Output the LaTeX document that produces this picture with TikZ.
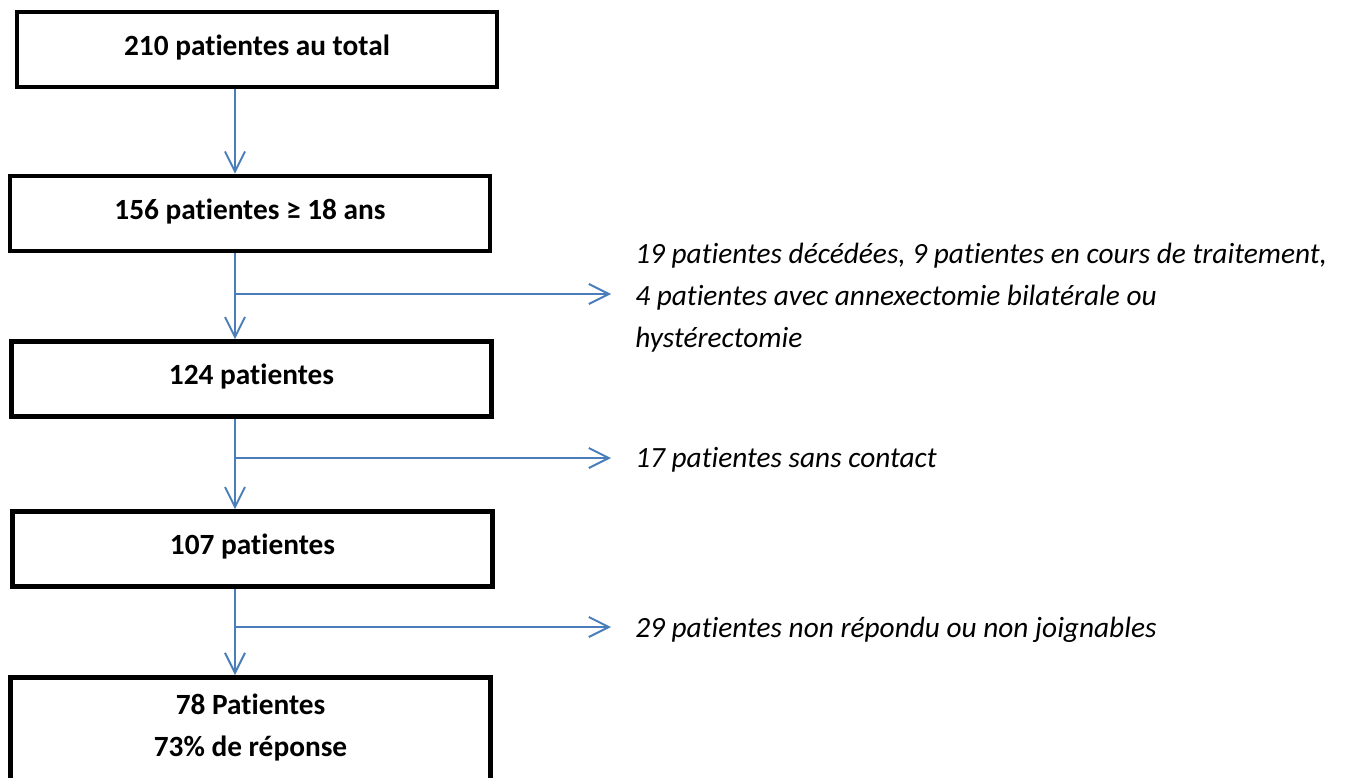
\documentclass[tikz,border=0pt]{standalone}
\usepackage{fontspec}
\setmainfont{Carlito}[Ligatures=NoCommon]
\usetikzlibrary{arrows.meta}
\definecolor{bleu}{HTML}{4A7EBB}
\begin{document}
\begin{tikzpicture}[>={Straight Barb[length=15pt,width=15pt]},x=0.75pt,y=-0.75pt,
	boite/.style={draw,line width=3.4pt,minimum width=360pt,minimum height=56.25pt,align=center,
		font=\bfseries\fontsize{22}{31.5}\selectfont},
	ligne/.style={boite,text depth=0.65em},
	texte/.style={anchor=west,inner sep=0pt,align=left,font=\itshape\fontsize{22}{31.5}\selectfont},
	fleche/.style={->,bleu,line width=1.5pt}]
	\useasboundingbox (0,0) rectangle (1347,778);
	\def\xf{235} % abscisse des flèches
	\coordinate (sp) at (\xf,0);
	\node[ligne] (b1) at (257,49.5) {210 patientes au total};
	\node[ligne] (b2) at (250,213.5) {156 patientes ≥ 18 ans};
	\node[ligne] (b3) at (251.5,379) {124 patientes};
	\node[ligne] (b4) at (252.5,549) {107 patientes};
	\node[boite,anchor=north,minimum height=82.5pt,text depth=10pt] (b5) at (250.5,675) {78 Patientes\\73\% de réponse};
	% sorties
	\node[texte] (r1) at (635,297.5) {19 patientes décédées, 9 patientes en cours de traitement,\\
		4 patientes avec annexectomie bilatérale ou\\hystérectomie};
	\node[texte] (r2) at (635,460) {17 patientes sans contact};
	\node[texte] (r3) at (635,630) {29 patientes non répondu ou non joignables};
	\coordinate (e1) at (611,294);
	\coordinate (e2) at (611,458);
	\coordinate (e3) at (611,627);
	\draw[fleche] (b1.south -| sp) -- (b2.north -| sp);
	\draw[fleche] (b2.south -| sp) -- (b3.north -| sp);
	\draw[fleche] (b3.south -| sp) -- (b4.north -| sp);
	\draw[fleche] (b4.south -| sp) -- (b5.north -| sp);
	\draw[fleche] (sp |- e1) -- (e1);
	\draw[fleche] (sp |- e2) -- (e2);
	\draw[fleche] (sp |- e3) -- (e3);
\end{tikzpicture}
\end{document}
